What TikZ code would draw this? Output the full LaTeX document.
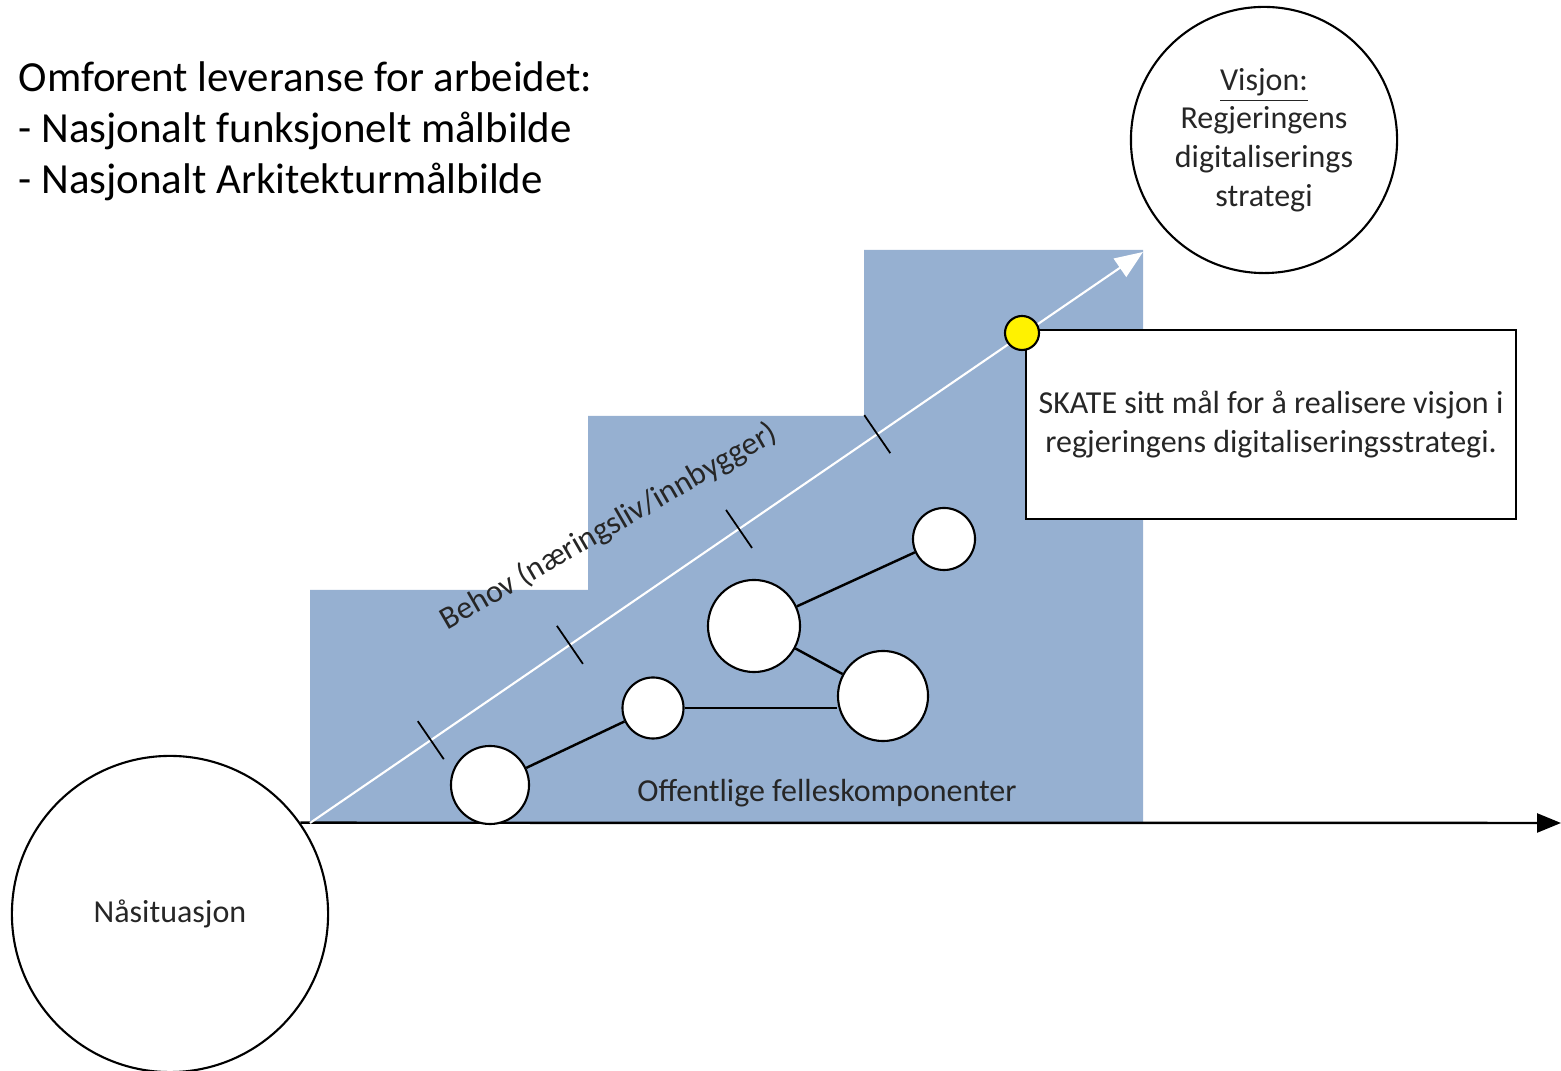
\documentclass[tikz,border=0pt]{standalone}
\usepackage{fontspec}
\setmainfont{Carlito}
\usetikzlibrary{arrows.meta,calc}
\definecolor{stairblue}{HTML}{96B0D1}
\begin{document}
\begin{tikzpicture}
[x=0.01cm,y=-0.01cm,
  circledecorate/.style={shape=circle,draw,line width=0.6pt,inner sep=0pt,
    minimum size=#1,align=center,font=\fontsize{9.1}{11}\selectfont,text=black!85},
  compdecorate/.style={shape=circle,draw,fill=white,line width=0.6pt,
    inner sep=0pt,minimum size=#1},
  linedecorate/.style={-,line width=0.7pt},
  tickdecorate/.style={-,line width=0.5pt},
  smalltext/.style={font=\fontsize{9.1}{10.9}\selectfont,text=black!85}]
\useasboundingbox (0,0) rectangle (1561,1071);
%% heading
\foreach \nodename/\y/\txt in {head1/92/Omforent leveranse for arbeidet:,
  head2/143/- Nasjonalt funksjonelt målbilde,
  head3/194/- Nasjonalt Arkitekturmålbilde} {
  \node (\nodename) at (18,\y) [anchor=base west,inner sep=0pt,
    font=\fontsize{12.2}{14.2}\selectfont] {\txt};
}
%% stairs
\fill[stairblue] (310,823) -- (310,590) -- (588,590) -- (588,416)
  -- (864,416) -- (864,250) -- (1143,250) -- (1143,823) -- cycle;
%% start and vision
\node (nasit) at (170,914) [circledecorate=3.16cm] {Nåsituasjon};
\node (visjon) at (1264,140) [circledecorate=2.66cm]
  {\underline{Visjon:}\\Regjeringens\\digitaliserings\\strategi};
\coordinate (axisend) at (1561,823);
\draw[linedecorate,-{Triangle[length=0.24cm,width=0.19cm]}] (nasit.35) -- (axisend);
%% need arrow
\coordinate (o) at (310,823);
\coordinate (aim) at (1143,252);
\draw[white,line width=0.6pt,-{Triangle[length=0.28cm,width=0.22cm]}] (o) -- (aim);
\foreach \t in {0.145,0.312,0.515,0.681} {
  \draw[tickdecorate] ($(o)!\t!(aim)$) ++(-13,-19) -- ++(26,38);
}
\node (behov) at (609,527) [smalltext,rotate=30] {Behov (næringsliv/innbygger)};
%% components
\foreach \nodename/\x/\y/\d in {k1/490/785/0.78cm, k2/653/708/0.61cm,
  k3/754/626/0.92cm, k4/883/696/0.90cm, k5/944/539/0.62cm} {
  \node (\nodename) at (\x,\y) [compdecorate=\d] {};
}
\path
\foreach \startnode/\endnode in {k1/k2, k3/k4, k3/k5} {
  (\startnode) edge[linedecorate] (\endnode)
};
\draw[linedecorate] (k2.east) -- (k2.east -| k4.west);
\node (komp) at (827,793) [smalltext] {Offentlige felleskomponenter};
%% goal
\node (goal) at (1271,424.5) [draw,fill=white,line width=0.6pt,
  minimum width=4.9cm,minimum height=1.89cm,align=center,smalltext]
  {SKATE sitt mål for å realisere visjon i\\regjeringens digitaliseringsstrategi.};
\node (goaldot) at (1022,333) [shape=circle,draw,fill=yellow,line width=0.6pt,
  inner sep=0pt,minimum size=0.34cm] {};
\end{tikzpicture}
\end{document}
